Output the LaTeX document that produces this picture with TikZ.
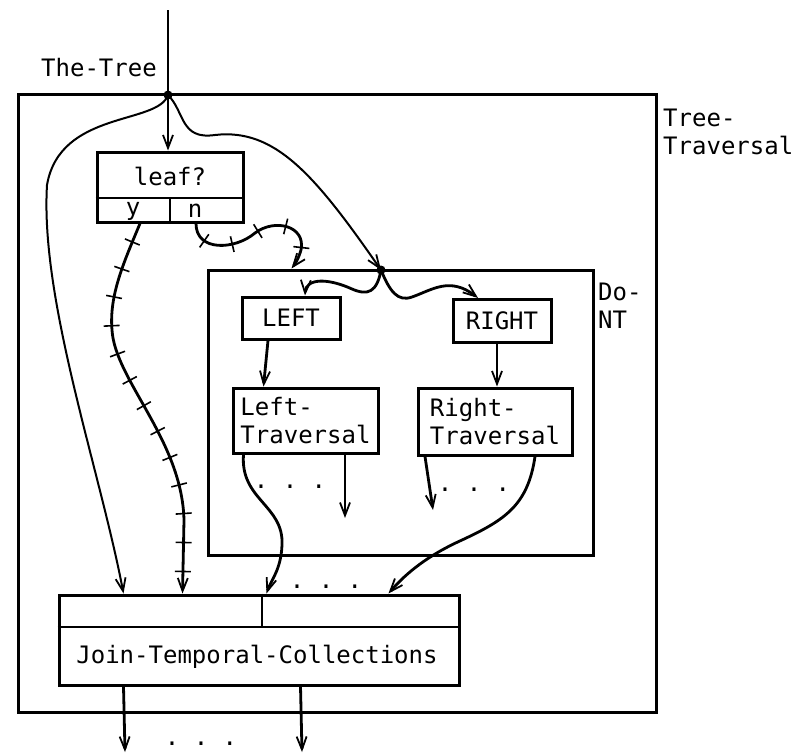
\documentclass[tikz,border=0pt]{standalone}
\usepackage{fontspec}
\setmonofont{DejaVu Sans Mono}
\usetikzlibrary{arrows.meta,decorations.markings}

\begin{document}
\begin{tikzpicture}[x=1pt, y=-1pt,
			every node/.style={font=\ttfamily\fontsize{24}{28}\selectfont},
			blk/.style={draw, line width=3pt, inner sep=0pt, align=center},
			lbl/.style={inner sep=0pt, align=left},
			dotsnd/.style={inner sep=0pt, anchor=base},
			jct/.style={circle, fill, inner sep=0pt, minimum size=9pt},
			wire/.style={line width=2.8pt},
			flow/.style={wire, -{Straight Barb[length=13pt,width=10pt,line width=1.8pt]}},
			thinflow/.style={flow, line width=2pt},
			tickflow/.style={flow, postaction={decorate, decoration={markings,
						mark=between positions 20pt and -20pt step 29pt with
						{\draw[line width=1.6pt, arrows=-] (0,-8pt) -- (0,8pt);}}}},
			]
			\useasboundingbox (0,0) rectangle (792,755);
			
			%% -- outer program box ----------------------------------------------------
			\node[blk, minimum width=638pt, minimum height=618pt] (tt) at (337,403) {};
			\node[lbl, anchor=north west] (ttname) at (663,109) {Tree-\\Traversal};
			
			%% -- input ------------------------------------------------------------------
			\coordinate (treein) at (168,10);
			\node[jct] (j1) at (168,95) {};
			\node[lbl, anchor=base east] (treename) at (157,76) {The-Tree};
			
			%% -- leaf? test -------------------------------------------------------------
			\node[blk, minimum width=146pt, minimum height=70pt] (leaf) at (170,187) {};
			\draw[line width=2pt] ([yshift=-11pt]leaf.west) -- ([yshift=-11pt]leaf.east);
			\draw[line width=2pt] ([yshift=-11pt]leaf.center) -- (leaf.south);
			\node (leaftxt) at (170,176) {leaf?};
			\node (leafy) at (133,211) {y};
			\node (leafn) at (195,211) {n};
			
			%% -- Do-NT box --------------------------------------------------------------
			\node[blk, minimum width=385pt, minimum height=285pt] (dont) at (400.5,412.5) {};
			\node[lbl, anchor=north west] (dontname) at (598,283) {Do-\\NT};
			\node[jct] (j2) at (381,270) {};
			
			\node[blk, minimum width=98pt, minimum height=42pt] (left) at (291,318) {LEFT};
			\node[blk, minimum width=98pt, minimum height=43pt] (right) at (502,321) {RIGHT};
			\node[blk, align=left, minimum width=145pt, minimum height=65pt] (ltrav) at (305.5,420.5)
			{Left-\\Traversal};
			\node[blk, align=left, minimum width=154pt, minimum height=67pt] (rtrav) at (495,421.5)
			{Right-\\Traversal};
			
			%% -- join ---------------------------------------------------------------------
			\node[blk, minimum width=400pt, minimum height=90pt] (join) at (259,640) {};
			\draw[line width=2pt] ([yshift=13pt]join.west) -- ([yshift=13pt]join.east);
			\draw[line width=2pt] ([xshift=3pt]join.north) -- ([xshift=3pt,yshift=13pt]join.center);
			\node (jointxt) at (257,657) {Join-Temporal-Collections};
			
			%% -- free ends ----------------------------------------------------------------
			\coordinate (lout) at (345,518);
			\coordinate (rout) at (433,510);
			\coordinate (out1) at (125,752);
			\coordinate (out2) at (302,752);
			
			%% -- the tree comes in --------------------------------------------------------
			\draw[wire] (treein) -- (j1.center);
			\draw[thinflow] (j1.center) -- (j1 |- leaf.north);
			\draw[thinflow] (j1.center) .. controls (158,125) and (60,110) .. (47,185)
			.. controls (40,300) and (100,470) .. ([xshift=66pt]join.north west);
			\draw[thinflow] (j1.center) .. controls (185,112) and (180,140) .. (215,135)
			.. controls (275,128) and (315,175) .. (j2.center);
			
			%% -- leaf? branches -----------------------------------------------------------
			\draw[tickflow] ([xshift=-30pt]leaf.south) .. controls (124,262) and (109,295) .. (112,330)
			.. controls (115,380) and (182,440) .. (184,520) -- ([xshift=125pt]join.north west);
			\draw[tickflow] ([xshift=26pt]leaf.south) .. controls (196,252) and (235,250) .. (255,233)
			.. controls (275,218) and (306,226) .. (301,250) .. controls (298,260) and (295,264) .. ([xshift=85pt]dont.north west);
			
			%% -- inside Do-NT -------------------------------------------------------------
			\draw[flow] (j2.center) .. controls (377,292) and (368,296) .. (352,289)
			.. controls (328,278) and (306,278) .. ([xshift=14pt]left.north);
			\draw[flow] (j2.center) .. controls (390,292) and (398,302) .. (412,297)
			.. controls (432,290) and (450,276) .. ([xshift=-24pt]right.north);
			\draw[flow] ([xshift=-23pt]left.south) -- ([xshift=-42pt]ltrav.north);
			\draw[flow] ([xshift=-5pt]right.south) -- ([xshift=2pt]rtrav.north);
			
			\draw[flow] ([xshift=-62pt]ltrav.south) .. controls (240,500) and (284,505) .. (282,545)
			.. controls (281,570) and (271,580) .. ([xshift=209pt]join.north west);
			\draw[flow] ([xshift=39.5pt]ltrav.south) -- (lout);
			\draw[flow] ([xshift=-70pt]rtrav.south) -- (rout);
			\draw[flow] ([xshift=40pt]rtrav.south) .. controls (528,505) and (505,520) .. (462,540)
			.. controls (422,558) and (402,578) .. ([xshift=331pt]join.north west);
			
			%% -- results ------------------------------------------------------------------
			\draw[flow] ([xshift=66pt]join.south west) -- (out1);
			\draw[flow] ([xshift=243pt]join.south west) -- (out2);
			
			%% -- elided streams -----------------------------------------------------------
			\node[dotsnd] (ldots) at (290,488) {. . .};
			\node[dotsnd] (rdots) at (474,491) {. . .};
			\node[dotsnd] (mdots) at (326,588) {. . .};
			\node[dotsnd] (bdots) at (201,745) {. . .};
			
		\end{tikzpicture}
\end{document}
